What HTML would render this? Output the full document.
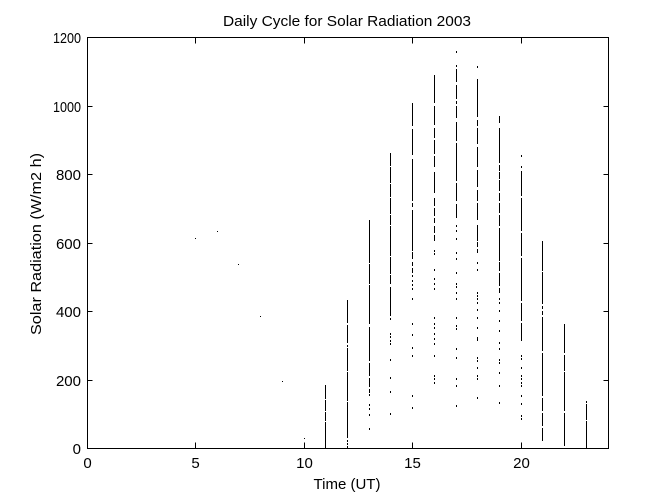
<!DOCTYPE html>
<html>
<head>
<meta charset="utf-8">
<style>
  html, body { margin: 0; padding: 0; background: #ffffff; }
  svg { display: block; }
  text { font-family: "Liberation Sans", Arial, sans-serif; fill: #000; }
</style>
</head>
<body>
<svg width="672" height="504" viewBox="0 0 672 504" xmlns="http://www.w3.org/2000/svg">
  <rect x="0" y="0" width="672" height="504" fill="#ffffff"/>

  <!-- Title -->
  <text x="347" y="26" font-size="15" text-anchor="middle" textLength="248" lengthAdjust="spacingAndGlyphs">Daily Cycle for Solar Radiation 2003</text>

  <!-- Axes box -->
  <rect x="87.5" y="37.5" width="521" height="411" fill="none" stroke="#000" stroke-width="1"/>

  <!-- X ticks (bottom & top) -->
  <path d="M195.5 448.5v-6 M304.5 448.5v-6 M412.5 448.5v-6 M521.5 448.5v-6
           M195.5 37.5v6 M304.5 37.5v6 M412.5 37.5v6 M521.5 37.5v6" stroke="#000" stroke-width="1" fill="none"/>
  <!-- Y ticks (left & right) -->
  <path d="M87.5 380.5h5 M87.5 311.5h5 M87.5 243.5h5 M87.5 174.5h5 M87.5 106.5h5
           M608.5 380.5h-5 M608.5 311.5h-5 M608.5 243.5h-5 M608.5 174.5h-5 M608.5 106.5h-5" stroke="#000" stroke-width="1" fill="none"/>

  <!-- Y tick labels -->
  <g font-size="15" text-anchor="end">
    <text x="81" y="454">0</text>
    <text x="81" y="386">200</text>
    <text x="81" y="317">400</text>
    <text x="81" y="249">600</text>
    <text x="81" y="180">800</text>
    <text x="81" y="112" textLength="28" lengthAdjust="spacingAndGlyphs">1000</text>
    <text x="81" y="43" textLength="28" lengthAdjust="spacingAndGlyphs">1200</text>
  </g>

  <!-- X tick labels -->
  <g font-size="15" text-anchor="middle">
    <text x="87.5" y="468">0</text>
    <text x="195.5" y="468">5</text>
    <text x="304.5" y="468">10</text>
    <text x="412.5" y="468">15</text>
    <text x="521.5" y="468">20</text>
  </g>

  <!-- Axis labels -->
  <text x="347" y="489" font-size="15" text-anchor="middle">Time (UT)</text>
  <text transform="translate(41,244) rotate(-90)" font-size="15" text-anchor="middle" textLength="182" lengthAdjust="spacingAndGlyphs">Solar Radiation (W/m2 h)</text>

  <!-- Isolated points -->
  <g fill="#000">
    <rect x="195" y="238" width="1" height="1"/>
    <rect x="217" y="231" width="1" height="1"/>
    <rect x="238" y="264" width="1" height="1"/>
    <rect x="260" y="316" width="1" height="1"/>
    <rect x="282" y="381" width="1" height="1"/>
    <rect x="304" y="438" width="1" height="1"/>
  </g>

  <!-- Data columns -->
  <g stroke="#000" stroke-width="1" fill="none">
    <!-- 11 -->
    <path d="M325.5 385V399 M325.5 400V411 M325.5 412V421 M325.5 422V449"/>
    <!-- 12 -->
    <path d="M347.5 300V323 M347.5 325V343 M347.5 345v2 M347.5 348V371 M347.5 372V401 M347.5 402V438 M347.5 440v2 M347.5 443v2 M347.5 446v2"/>
    <!-- 13 -->
    <path d="M369.5 220V263 M369.5 264V284 M369.5 285V324 M369.5 327V361 M369.5 363V376 M369.5 378V387
             M369.5 389v2 M369.5 391v2 M369.5 394v2 M369.5 404v2 M369.5 408v2 M369.5 414v2 M369.5 428v2"/>
    <!-- 14 -->
    <path d="M390.5 153V166 M390.5 167V183 M390.5 184V197 M390.5 198V214 M390.5 215V225 M390.5 226V256 M390.5 257V274 M390.5 275V284 M390.5 287V316
             M390.5 318v2 M390.5 333v2 M390.5 336v2 M390.5 340v2 M390.5 343v2 M390.5 359v2 M390.5 377v2 M390.5 391v2 M390.5 413v2"/>
    <!-- 15 -->
    <path d="M412.5 103V126 M412.5 129V155 M412.5 159V201 M412.5 203V207 M412.5 210V251 M412.5 252V259 M412.5 262V266 M412.5 268V273
             M412.5 275v2 M412.5 280v2 M412.5 284v2 M412.5 288v2 M412.5 298v2 M412.5 323v2 M412.5 334v2 M412.5 347v2 M412.5 355v2 M412.5 395v2 M412.5 407v2"/>
    <!-- 16 -->
    <path d="M434.5 75V103 M434.5 106V125 M434.5 128V138 M434.5 140V154 M434.5 156V167 M434.5 172V193 M434.5 198V206 M434.5 208V216 M434.5 218V223 M434.5 226V233 M434.5 235V241
             M434.5 250v2 M434.5 253v2 M434.5 269v2 M434.5 278v2 M434.5 283v2 M434.5 288v2 M434.5 317v2 M434.5 323v2 M434.5 327v2 M434.5 333v2 M434.5 338v2 M434.5 343v2 M434.5 355v2 M434.5 375v2 M434.5 378v2 M434.5 382v2"/>
    <!-- 17 -->
    <path d="M456.5 51v2 M456.5 65v2
             M456.5 69V82 M456.5 85V99 M456.5 101V104 M456.5 106V118 M456.5 122V141 M456.5 143V181 M456.5 183V201 M456.5 204V218
             M456.5 225v2 M456.5 230v2 M456.5 238v2 M456.5 252v2 M456.5 258v2 M456.5 272v2 M456.5 283v2 M456.5 286v2 M456.5 292v2 M456.5 298v2 M456.5 317v2 M456.5 325v2 M456.5 328v2 M456.5 348v2 M456.5 357v2 M456.5 378v2 M456.5 385v2 M456.5 405v2"/>
    <!-- 18 -->
    <path d="M477.5 66v2
             M477.5 79V117 M477.5 120V126 M477.5 128V144 M477.5 147V167 M477.5 170V187 M477.5 190V201 M477.5 203V220 M477.5 225V241 M477.5 242V247 M477.5 249V253
             M477.5 262v2 M477.5 269v2 M477.5 292v2 M477.5 295v2 M477.5 298v2 M477.5 302v2 M477.5 309v2 M477.5 317v2 M477.5 327v2 M477.5 337v2 M477.5 339v2 M477.5 357v2 M477.5 360v2 M477.5 367v2 M477.5 375v2 M477.5 378v2 M477.5 397v2"/>
    <!-- 19 -->
    <path d="M499.5 116V123 M499.5 128V163 M499.5 165V171 M499.5 172V179 M499.5 180V191 M499.5 193V201 M499.5 203V213 M499.5 215V226 M499.5 228V261 M499.5 262V271 M499.5 273V286 M499.5 288V293
             M499.5 298v2 M499.5 302v2 M499.5 310v2 M499.5 320v2 M499.5 330v2 M499.5 342v2 M499.5 348v2 M499.5 359v2 M499.5 362v2 M499.5 372v2 M499.5 385v2 M499.5 402v2"/>
    <!-- 20 -->
    <path d="M521.5 155v2 M521.5 166v2
             M521.5 171V196 M521.5 198V231 M521.5 233V256 M521.5 258V301 M521.5 303V321 M521.5 323V341
             M521.5 355v2 M521.5 358v2 M521.5 367v2 M521.5 375v2 M521.5 378v2 M521.5 382v2 M521.5 385v2 M521.5 395v2 M521.5 403v2 M521.5 415v2 M521.5 418v2"/>
    <!-- 21 -->
    <path d="M542.5 241V271 M542.5 272V304 M542.5 306V309 M542.5 311V315 M542.5 317V351 M542.5 353V396 M542.5 398V411 M542.5 413V426 M542.5 428V441"/>
    <!-- 22 -->
    <path d="M564.5 324V353 M564.5 355V371 M564.5 372V411 M564.5 413V446"/>
    <!-- 23 -->
    <path d="M586.5 401V403 M586.5 404V420 M586.5 421V449"/>
  </g>
</svg>
</body>
</html>
